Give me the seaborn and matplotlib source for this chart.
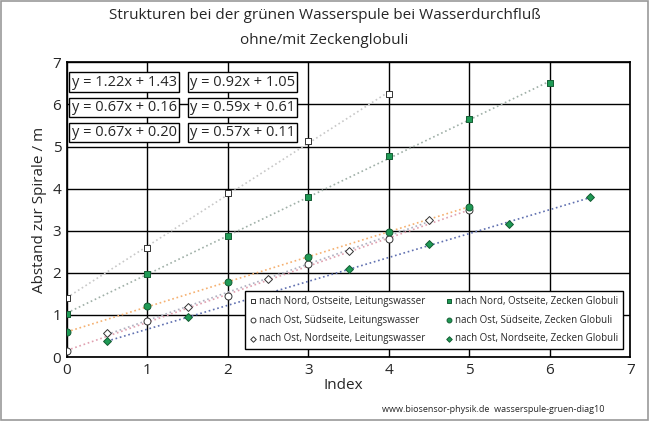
import numpy as np
import matplotlib as mpl; mpl.use("Agg")
import matplotlib.pyplot as plt
import seaborn as sns

sns.set_theme(style="white", rc={"font.family": "Open Sans"})

X_INT = [0, 1, 2, 3, 4, 5, 6]
X_HALF = [0.5, 1.5, 2.5, 3.5, 4.5, 5.5, 6.5]
NO_LEIT = [1.40, 2.60, 3.90, 5.12, 6.25]
NO_ZECK = [1.02, 1.97, 2.88, 3.80, 4.77, 5.65, 6.50]
OS_LEIT = [0.15, 0.85, 1.45, 2.20, 2.80, 3.50]
OS_ZECK = [0.60, 1.20, 1.77, 2.38, 2.98, 3.57]
ON_LEIT = [0.57, 1.18, 1.85, 2.52, 3.25]
ON_ZECK = [0.38, 0.95, 1.48, 2.10, 2.68, 3.17, 3.80]
EQS = [["y = 1.22x + 1.43", "y = 0.92x + 1.05"],
       ["y = 0.67x + 0.16", "y = 0.59x + 0.61"],
       ["y = 0.67x + 0.20", "y = 0.57x + 0.11"]]

G = "#1f9a55"
series = [
    ("nach Nord, Ostseite, Leitungswasser", X_INT, NO_LEIT, "s", "white", "#c8c8c8", 5),
    ("nach Ost, Südseite, Leitungswasser", X_INT, OS_LEIT, "o", "white", "#e0a0b0", 5),
    ("nach Ost, Nordseite, Leitungswasser", X_HALF, ON_LEIT, "D", "white", "#b0b0c0", 4),
    ("nach Nord, Ostseite, Zecken Globuli", X_INT, NO_ZECK, "s", G, "#a0b0a8", 5),
    ("nach Ost, Südseite, Zecken Globuli", X_INT, OS_ZECK, "o", G, "#f5b070", 5),
    ("nach Ost, Nordseite, Zecken Globuli", X_HALF, ON_ZECK, "D", G, "#6070b0", 4),
]

fig = plt.figure(figsize=(6.49, 4.21), dpi=100)
fig.patches.append(mpl.patches.Rectangle((0.002, 0.002), 0.996, 0.996, transform=fig.transFigure,
                                         fill=False, ec="#999999", lw=1.2))
ax = fig.add_axes([0.103, 0.152, 0.868, 0.700])
for lab, xs, ys, m, fc, lc, ms in series:
    x = np.array(xs[:len(ys)]); y = np.array(ys)
    k, d = np.polyfit(x, y, 1)
    xx = np.array([x.min(), x.max()])
    ax.plot(xx, k * xx + d, ls=":", color=lc, lw=1.2, zorder=2)
    sns.scatterplot(x=x, y=y, marker=m, s=ms**2, color=fc, edgecolor="#333333" if fc == "white" else "#145c33",
                    linewidth=0.7, ax=ax, label=lab, zorder=3)
ax.set_xlim(0, 7); ax.set_ylim(0, 7)
ax.set_xticks(range(8)); ax.set_yticks(range(8))
ax.grid(True, color="black", lw=1)
for s in ax.spines.values(): s.set_color("black")
ax.tick_params(labelsize=11, length=0, pad=4)
ax.set_xlabel("Index", fontsize=11, labelpad=0)
ax.xaxis.set_label_coords(0.49, -0.07)
ax.set_ylabel("Abstand zur Spirale / m", fontsize=11)
ax.legend(ncol=2, loc="lower right", fontsize=7, frameon=True, fancybox=False, edgecolor="black",
          handletextpad=0.2, columnspacing=2.0, labelspacing=0.8, borderpad=0.5, markerscale=0.7,
          handlelength=0.8, framealpha=1, bbox_to_anchor=(0.995, 0.01))
for r, row in enumerate(EQS):
    for c, t in enumerate(row):
        ax.text(0.06 + c * 1.47, 6.53 - r * 0.6, t, fontsize=10.5, va="center",
                bbox=dict(boxstyle="square,pad=0.15", fc="white", ec="black", lw=1), zorder=5)
fig.text(0.5, 0.955, "Strukturen bei der grünen Wasserspule bei Wasserdurchfluß", ha="center", fontsize=11)
fig.text(0.5, 0.895, "ohne/mit Zeckenglobuli", ha="center", fontsize=11)
fig.text(0.76, 0.022, "www.biosensor-physik.de  wasserspule-gruen-diag10", ha="center", fontsize=6.5)
fig.savefig("out.png", dpi=100)
